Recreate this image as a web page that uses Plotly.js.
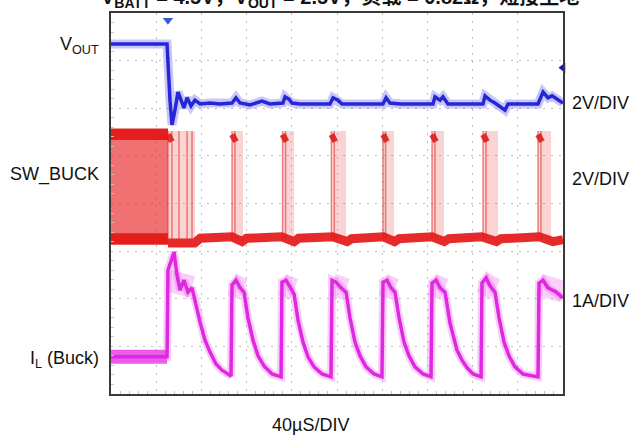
<!DOCTYPE html>
<html>
<head>
<meta charset="utf-8">
<script src="https://cdn.plot.ly/plotly-3.0.1.min.js"></script>
<style>
  html, body { margin: 0; padding: 0; background: #fff; }
  #chart { width: 631px; height: 436px; }
</style>
</head>
<body>
<div id="chart"></div>
<script>
// ---- Data (time in µs, vertical position in scope divisions, 0 = bottom) ----
const titleText = 'V<sub>BATT</sub> = 4.5V，V<sub>OUT</sub> = 2.5V，负载 = 0.82Ω，短接至地';
const channelLabels = ['V<sub>OUT</sub>', 'SW_BUCK', 'I<sub>L</sub> (Buck)'];
const scaleLabels = ['2V/DIV', '2V/DIV', '1A/DIV'];
const timeLabel = '40µS/DIV';

// VOUT trace
const voutT = [0,49.6,52.2,54.0,56.6,59.3,62.0,64.6,67.3,70.8,74.3,78.8,87.6,96.5,107.1,110.6,114.2,123.0,133.6,140.7,152.2,154.0,157.5,160.2,167.3,193.8,196.5,200.9,204.4,220.4,240.7,243.4,246.9,255.8,273.5,285.0,286.7,291.2,293.8,298.2,317.7,329.2,331.0,335.4,339.8,348.7,351.3,370.8,377.9,382.3,386.7,390.3,395.6,400];
const voutDiv = [7.35,7.35,6.17,5.65,5.96,6.34,6.17,6.01,6.22,6.05,6.17,6.09,6.11,6.09,6.11,6.22,6.11,6.07,6.15,6.09,6.11,6.24,6.19,6.11,6.09,6.09,6.22,6.17,6.09,6.09,6.09,6.22,6.11,6.09,6.09,6.09,6.24,6.17,6.24,6.09,6.09,6.09,6.26,6.17,6.11,5.96,6.09,6.09,6.09,6.34,6.22,6.26,6.17,6.11];

// Inductor current trace
const ilT = [0,49.6,
  50.4,53.1,55.8,58.4,61.1,64.6,68.1,71.7,75.2,78.8,83.2,87.6,92.9,98.2,106.2,
  107.1,110.6,114.2,117.7,121.2,125.7,130.1,135.4,142.5,150.5,
  151.3,154.9,158.4,162.0,165.5,169.9,174.3,179.7,186.7,194.7,
  195.6,199.1,203.6,208.0,211.5,215.9,220.4,225.7,232.8,239.8,
  240.7,244.3,247.8,251.3,254.9,259.3,263.7,269.0,276.1,283.2,
  284.1,287.6,291.2,295.6,300.0,306.2,310.6,315.1,320.4,327.5,
  328.3,331.9,335.4,339.8,343.4,347.8,352.2,357.5,364.6,377.9,
  378.8,382.3,386.7,390.3,393.8,400];
const ilDiv = [0.78,0.78,
  2.60,2.77,2.98,2.50,2.18,2.39,2.14,2.23,1.87,1.51,1.13,0.88,0.63,0.50,0.38,
  2.29,2.39,2.23,2.14,1.60,1.13,0.80,0.59,0.42,0.36,
  2.35,2.39,2.23,2.10,1.55,1.09,0.78,0.57,0.42,0.36,
  2.39,2.35,2.23,2.14,1.60,1.09,0.80,0.57,0.42,0.36,
  2.35,2.39,2.23,2.14,1.60,1.09,0.80,0.57,0.42,0.36,
  2.33,2.39,2.23,2.14,1.49,0.92,0.71,0.55,0.42,0.36,
  2.33,2.44,2.27,2.14,1.60,1.09,0.80,0.57,0.42,0.36,
  2.33,2.39,2.23,2.18,2.14,2.02];
// IL ripple envelope during high-side bursts
const ilBandT   = [50.4,72,null,107.1,117,null,151.3,162,null,195.6,208,null,240.7,251,null,284.1,295,null,328.3,340,null,378.8,400];
const ilBandDiv = [2.38,2.25,null,2.30,2.20,null,2.30,2.20,null,2.30,2.20,null,2.30,2.20,null,2.30,2.20,null,2.35,2.20,null,2.30,2.15];
const ilPreT = [0,49.6];
const ilPreDiv = [0.78,0.78];

// SW_BUCK: pre-trigger continuous switching envelope
const swPreT   = [0,50.4,50.4,0,0];
const swPreDiv = [5.58,5.58,3.13,3.13,5.58];
const swPreBandT   = [0,50.4,null,0,50.4];
const swPreBandDiv = [5.45,5.45,null,3.26,3.26];
// SW_BUCK: low level after trigger
const swLowT   = [50.4,74,79,107,116,120,151,162,166,196,209,213,241,251,255,284,295,299,328,341,345,379,391,400];
const swLowDiv = [3.17,3.17,3.27,3.30,3.20,3.27,3.30,3.20,3.27,3.30,3.20,3.26,3.30,3.20,3.26,3.30,3.20,3.26,3.30,3.20,3.26,3.30,3.20,3.24];
// SW_BUCK: switching bursts (start, end)
const burstStart = [50.4,107.1,151.8,195.0,240.7,284.1,329.2,377.9];
const burstEnd   = [74.3,116.8,162.0,208.0,250.5,294.7,342.5,389.4];
const burstTop = 5.52, burstBottom = 3.25;
// dark streaks inside bursts
const swStreakT = [50.4,53.9,60.2,67.3,71.7,107.1,109.7,151.8,154.5,195.0,197.6,240.7,243.0,284.1,286.7,329.2,331.9,377.9,380.5];

// markers
const trigT = [50.4], trigDiv = [7.85];
const refT = [400], refDiv = [6.85];

// ---- build helper arrays from the data ----
function rectPolys(starts, ends, top, bottom) {
  const x = [], y = [];
  starts.forEach((s, i) => {
    x.push(s, ends[i], ends[i], s, s, null);
    y.push(top, top, bottom, bottom, top, null);
  });
  return {x, y};
}
function vLines(ts, lo, hi) {
  const x = [], y = [];
  ts.forEach(t => { x.push(t, t, null); y.push(lo, hi, null); });
  return {x, y};
}
function caps(ts, len, yv) {
  const x = [], y = [];
  ts.forEach(t => { x.push(t, t + len, null); y.push(yv, yv - 0.15, null); });
  return {x, y};
}
const bursts = rectPolys(burstStart, burstEnd, burstTop, burstBottom);
const streaks = vLines(swStreakT, burstBottom, burstTop);
const swCaps = caps(burstStart, 3.5, 5.45);

const RED = '#e61c1c', BLUE = '#2626d6', MAG = '#e028e0';

const traces = [
  // SW_BUCK
  {x: swPreT, y: swPreDiv, mode: 'lines', fill: 'toself', fillcolor: 'rgba(232,40,40,0.66)', line: {width: 0, color: RED}},
  {x: swPreBandT, y: swPreBandDiv, mode: 'lines', line: {width: 11, color: 'rgba(228,20,20,0.9)'}},
  {x: bursts.x, y: bursts.y, mode: 'lines', fill: 'toself', fillcolor: 'rgba(240,110,110,0.3)', line: {width: 0, color: RED}},
  {x: streaks.x, y: streaks.y, mode: 'lines', line: {width: 1.5, color: 'rgba(225,40,40,0.55)'}},
  {x: swCaps.x, y: swCaps.y, mode: 'lines', line: {width: 6, color: 'rgba(220,20,20,0.85)'}},
  {x: swLowT, y: swLowDiv, mode: 'lines', line: {width: 9, color: 'rgba(228,24,24,0.92)'}},
  // VOUT
  {x: voutT, y: voutDiv, mode: 'lines', line: {width: 9, color: 'rgba(70,70,235,0.3)'}},
  {x: voutT, y: voutDiv, mode: 'lines', line: {width: 3.5, color: BLUE}},
  // IL
  {x: ilBandT, y: ilBandDiv, mode: 'lines', line: {width: 22, color: 'rgba(240,120,240,0.35)'}},
  {x: ilPreT, y: ilPreDiv, mode: 'lines', line: {width: 14, color: 'rgba(232,50,232,0.8)'}},
  {x: ilT, y: ilDiv, mode: 'lines', line: {width: 8, color: 'rgba(236,90,236,0.3)'}},
  {x: ilT, y: ilDiv, mode: 'lines', line: {width: 3.5, color: MAG}},
  // markers
  {x: trigT, y: trigDiv, mode: 'markers', cliponaxis: false, marker: {symbol: 'triangle-down', size: 9, color: '#3a5ad0'}},
  {x: refT, y: refDiv, mode: 'markers', cliponaxis: false, marker: {symbol: 'triangle-left', size: 9, color: '#1a1ab0'}}
];

const FONT = 'Liberation Sans, Arial, Noto Sans CJK SC, sans-serif';
const labelY = [0.915, 0.575, 0.09];   // paper y of channel labels
const scaleY = [0.765, 0.565, 0.243];
const annotations = [];
channelLabels.forEach((t, i) => annotations.push({
  text: t, xref: 'paper', yref: 'paper', x: -0.022, y: labelY[i], xanchor: 'right', yanchor: 'middle',
  showarrow: false, font: {family: FONT, size: 18, color: '#111'}
}));
scaleLabels.forEach((t, i) => annotations.push({
  text: t, xref: 'paper', yref: 'paper', x: 1.015, y: scaleY[i], xanchor: 'left', yanchor: 'middle',
  showarrow: false, font: {family: FONT, size: 18, color: '#111'}
}));
annotations.push({
  text: timeLabel, xref: 'paper', yref: 'paper', x: 0.441, y: -0.082, xanchor: 'center', yanchor: 'middle',
  showarrow: false, font: {family: FONT, size: 18, color: '#111'}
});
annotations.push({
  text: '<b>' + titleText + '</b>', xref: 'paper', yref: 'paper', x: -0.027, y: 1.038, xanchor: 'left', yanchor: 'middle',
  showarrow: false, font: {family: FONT, size: 20, color: '#111'}
});

const axisCommon = {
  showticklabels: false, ticks: '', zeroline: false,
  showgrid: true, gridcolor: '#bdbdbd', griddash: '2px,6px', gridwidth: 1,
  showline: true, mirror: true, linecolor: '#3a3a3a', linewidth: 2, fixedrange: true
};

const layout = {
  width: 631, height: 436,
  margin: {l: 111, r: 68, t: 13, b: 42, pad: 0},
  paper_bgcolor: '#fff', plot_bgcolor: '#fff',
  showlegend: false,
  xaxis: Object.assign({}, axisCommon, {range: [0, 400], dtick: 40, tick0: 0,
    minor: {ticks: 'inside', dtick: 8, ticklen: 3, tickcolor: '#c4c4c4', showgrid: false}}),
  yaxis: Object.assign({}, axisCommon, {range: [0, 8], dtick: 1, tick0: 0,
    minor: {ticks: 'inside', dtick: 0.2, ticklen: 3, tickcolor: '#c4c4c4', showgrid: false}}),
  annotations: annotations
};

Plotly.newPlot('chart', traces, layout, {staticPlot: true, displayModeBar: false});
</script>
</body>
</html>
